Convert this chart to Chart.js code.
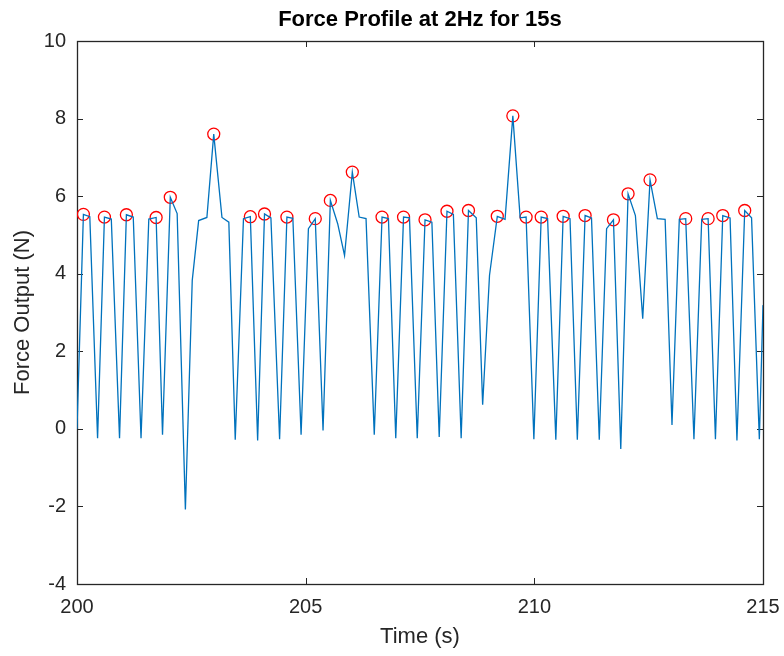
<!DOCTYPE html>
<html>
<head>
<meta charset="utf-8">
<script src="https://cdn.jsdelivr.net/npm/chart.js@4/dist/chart.umd.min.js"></script>
<style>
  html, body { margin: 0; padding: 0; background: #fff; }
  #wrap { width: 784px; height: 656px; }
</style>
</head>
<body>
<div id="wrap"><canvas id="forceChart" width="784" height="656"></canvas></div>
<script>
// sample times (s)
var times = [
  200.00, 200.14, 200.28, 200.45, 200.60, 200.75, 200.93, 201.08, 201.23, 201.40,
  201.57, 201.73, 201.87, 202.04, 202.19, 202.37, 202.52, 202.66, 202.84, 202.99,
  203.17, 203.32, 203.46, 203.64, 203.79, 203.95, 204.10, 204.24, 204.43, 204.59,
  204.72, 204.90, 205.06, 205.21, 205.38, 205.54, 205.70, 205.85, 206.02, 206.17,
  206.32, 206.50, 206.67, 206.81, 206.97, 207.14, 207.27, 207.44, 207.61, 207.76,
  207.92, 208.09, 208.23, 208.40, 208.56, 208.73, 208.87, 209.02, 209.19, 209.36,
  209.53, 209.69, 209.82, 209.99, 210.15, 210.29, 210.47, 210.63, 210.78, 210.94,
  211.11, 211.25, 211.42, 211.58, 211.73, 211.89, 212.05, 212.21, 212.37, 212.53,
  212.69, 212.86, 213.01, 213.17, 213.31, 213.49, 213.66, 213.80, 213.96, 214.12,
  214.28, 214.43, 214.60, 214.75, 214.92, 215.00
];
// force output (N)
var force = [
  0.00, 5.53, 5.47, -0.24, 5.46, 5.41, -0.24, 5.52, 5.46, -0.24,
  5.41, 5.45, -0.15, 5.97, 5.55, -2.08, 3.83, 5.37, 5.45, 7.60,
  5.45, 5.33, -0.28, 5.42, 5.47, -0.30, 5.54, 5.44, -0.27, 5.46,
  5.43, -0.15, 5.16, 5.42, -0.04, 5.89, 5.29, 4.47, 6.62, 5.46,
  5.42, -0.15, 5.46, 5.42, -0.24, 5.46, 5.44, -0.24, 5.39, 5.33,
  -0.21, 5.61, 5.53, -0.24, 5.63, 5.44, 0.62, 3.96, 5.48, 5.40,
  8.07, 5.44, 5.46, -0.27, 5.46, 5.42, -0.28, 5.48, 5.42, -0.28,
  5.50, 5.44, -0.28, 5.16, 5.39, -0.52, 6.06, 5.50, 2.84, 6.42,
  5.42, 5.40, 0.10, 5.40, 5.42, -0.27, 5.40, 5.42, -0.27, 5.50,
  5.44, -0.30, 5.63, 5.44, -0.27, 3.19
];
// samples marked as peaks (red circles)
var peakIdx = [1, 4, 7, 11, 13, 19, 24, 26, 29, 33, 35, 38, 42, 45, 48, 51, 54, 58,
               60, 62, 64, 67, 70, 74, 76, 79, 84, 87, 89, 92];
var xTicks = [200, 205, 210, 215];
var yTicks = [-4, -2, 0, 2, 4, 6, 8, 10];

var fontFam = '"Liberation Sans", Arial, Helvetica, sans-serif';
var axisCol = '#262626';

var linePts = [];
for (var i = 0; i < times.length; i++) {
    linePts.push({x: times[i], y: force[i]});
}
var peakPts = [];
for (var j = 0; j < peakIdx.length; j++) {
    peakPts.push({x: times[peakIdx[j]], y: force[peakIdx[j]]});
}

// box + inward ticks, matlab style
var boxPlugin = {
    id: 'boxPlugin',
    beforeDatasetsDraw: function (chart) {
        var ctx = chart.ctx, a = chart.chartArea;
        var xs = chart.scales.x, ys = chart.scales.y;
        var tl = 6;
        ctx.save();
        ctx.strokeStyle = axisCol;
        ctx.lineWidth = 1;
        ctx.beginPath();
        xTicks.forEach(function (v) {
            var px = Math.round(xs.getPixelForValue(v)) + 0.5;
            ctx.moveTo(px, a.bottom); ctx.lineTo(px, a.bottom - tl);
            ctx.moveTo(px, a.top); ctx.lineTo(px, a.top + tl);
        });
        yTicks.forEach(function (v) {
            var py = Math.round(ys.getPixelForValue(v)) + 0.5;
            ctx.moveTo(a.left, py); ctx.lineTo(a.left + tl, py);
            ctx.moveTo(a.right, py); ctx.lineTo(a.right - tl, py);
        });
        ctx.stroke();
        ctx.lineWidth = 1.3;
        ctx.strokeRect(Math.round(a.left) + 0.5, Math.round(a.top) + 0.5,
            Math.round(a.right - a.left), Math.round(a.bottom - a.top));
        ctx.restore();
    }
};

var ctx = document.getElementById('forceChart');
var myChart = new Chart(ctx, {
    type: 'scatter',
    data: {
        datasets: [
            {
                label: 'Force',
                data: linePts,
                showLine: true,
                borderColor: '#0072BD',
                borderWidth: 1.3,
                pointRadius: 0,
                tension: 0,
                fill: false
            },
            {
                label: 'Peaks',
                data: peakPts,
                showLine: false,
                pointStyle: 'circle',
                pointRadius: 6,
                pointBorderColor: '#FF0000',
                pointBackgroundColor: 'rgba(0,0,0,0)',
                pointBorderWidth: 1.3
            }
        ]
    },
    options: {
        responsive: false,
        animation: false,
        layout: { padding: { top: 0, right: 21, bottom: 0, left: 0 } },
        plugins: {
            legend: { display: false },
            tooltip: { enabled: false },
            title: {
                display: true,
                fullSize: false,
                text: 'Force Profile at 2Hz for 15s',
                color: '#000',
                font: { family: fontFam, size: 22, weight: 'bold', lineHeight: 1.2 },
                padding: { top: 7, bottom: 7.6 }
            }
        },
        scales: {
            x: {
                type: 'linear',
                position: 'bottom',
                min: 200,
                max: 215,
                grid: { display: false, drawTicks: false },
                border: { display: false },
                afterBuildTicks: function (s) {
                    s.ticks = xTicks.map(function (v) { return {value: v}; });
                },
                ticks: {
                    color: axisCol,
                    padding: 11,
                    maxRotation: 0,
                    font: { family: fontFam, size: 20 }
                },
                title: {
                    display: true,
                    text: 'Time (s)',
                    color: axisCol,
                    font: { family: fontFam, size: 22 },
                    padding: { top: 0, bottom: 6 }
                },
                afterFit: function (s) {
                    s.height = 72;
                    s.paddingLeft = 0;
                    s.paddingRight = 0;
                }
            },
            y: {
                type: 'linear',
                position: 'left',
                min: -4,
                max: 10,
                grid: { display: false, drawTicks: false },
                border: { display: false },
                afterBuildTicks: function (s) {
                    s.ticks = yTicks.map(function (v) { return {value: v}; });
                },
                ticks: {
                    color: axisCol,
                    padding: 11,
                    font: { family: fontFam, size: 20 }
                },
                title: {
                    display: true,
                    text: 'Force Output (N)',
                    color: axisCol,
                    font: { family: fontFam, size: 22 },
                    padding: { top: 10, bottom: 0 }
                },
                afterFit: function (s) {
                    s.width = 77;
                    s.paddingTop = 0;
                    s.paddingBottom = 0;
                }
            }
        }
    },
    plugins: [boxPlugin]
});
</script>
</body>
</html>
